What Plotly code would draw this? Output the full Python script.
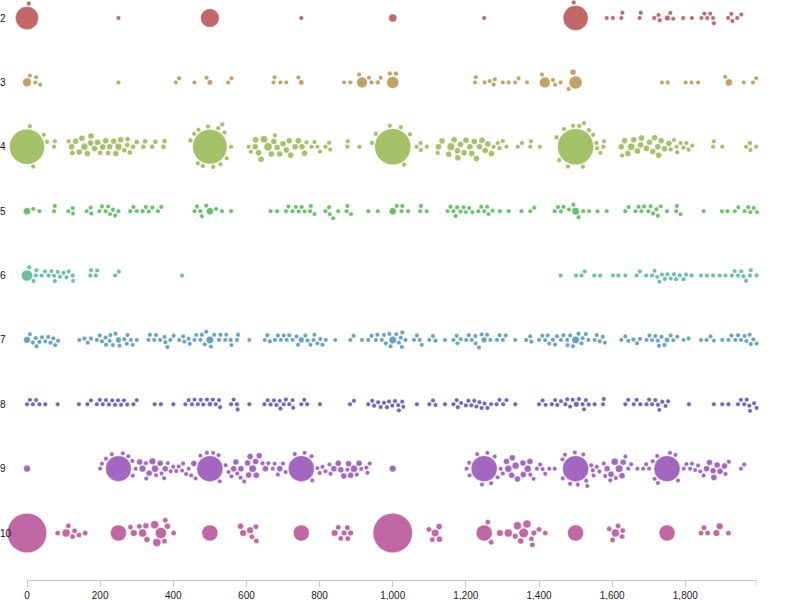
import math
import plotly.graph_objects as go

# ---------------- data: (value, size) pairs per row ----------------
categories = [2, 3, 4, 5, 6, 7, 8, 9, 10]
tick_values = [0, 200, 400, 600, 800, 1000, 1200, 1400, 1600, 1800]

row2 = [(0, 11.5), (5, 2.2), (250, 2.2), (500, 9.3), (750, 2.2), (1000, 4), (1250, 2.2), (1495, 2.2), (1500, 12.5),
        (1585, 2.2), (1602, 2.2), (1625, 2.2), (1628, 2.2), (1675, 2.2), (1678, 2.2), (1715, 2.2), (1727, 2.2),
        (1730, 2.2), (1751, 2.8), (1759, 2.2), (1767, 2.2), (1794, 2.2), (1818, 2.2), (1844, 2.2), (1852, 2.2),
        (1860, 2.2), (1868, 2.2), (1876, 2.2), (1878, 2.2), (1917, 2.2), (1926, 2.2), (1929, 2.2), (1942, 2.2),
        (1953, 2.2)]

row3 = [(0, 4.3), (8, 2.2), (23, 2.2), (25, 2.2), (36, 2.2), (250, 2.2), (407, 2.2), (416, 2.2), (458, 2.2),
        (491, 2.2), (500, 2.6), (550, 2.2), (559, 2.2), (674, 2.2), (677, 2.2), (693, 2.2), (709, 2.2), (742, 2.2),
        (750, 2.6), (867, 2.2), (884, 2.2), (908, 2.2), (916, 5.3), (935, 2.2), (942, 2.2), (959, 2.4), (967, 2.2),
        (992, 2.4), (1009, 2.4), (1000, 6), (1225, 2.2), (1227, 2.2), (1251, 2.2), (1265, 2.2), (1276, 2.2),
        (1279, 2.2), (1301, 2.2), (1317, 2.2), (1335, 2.2), (1344, 2.2), (1367, 2.2), (1408, 2.2), (1416, 5.3),
        (1438, 2.2), (1444, 2.2), (1459, 2.2), (1481, 2.2), (1493, 3), (1500, 6.5), (1736, 2.2), (1752, 2.2),
        (1801, 2.2), (1817, 2.2), (1835, 2.2), (1909, 2.2), (1919, 3.5), (1960, 2.2), (1985, 2.2), (1994, 2.2)]

row4 = [(0, 17.5), (8, 2.3), (17, 2.3), (46, 2.3), (55, 2.3), (74, 2.3), (76, 2.3),
        (114, 2.3), (122, 3), (124, 2.5), (133, 3), (143, 3), (150, 3), (157, 3.4), (165, 3), (174, 3), (175, 3),
        (185, 3), (193, 3), (200, 2.5), (207, 3), (215, 3), (222, 2.5), (226, 3), (237, 3), (243, 3), (250, 3.4),
        (256, 3), (266, 2.5), (274, 2.5), (275, 2.5), (281, 2.5), (290, 2.5), (300, 2.5), (318, 2.5), (323, 2.5),
        (342, 2.5), (351, 2.5), (373, 2.5), (376, 2.5),
        (500, 17.2), (447, 2.3), (457, 2.3), (467, 2.3), (469, 2.3), (481, 2.3), (495, 2.3), (509, 2.3), (523, 2.3),
        (534, 2.3), (546, 2.3), (558, 2.3), (540, 2.3), (529, 2.3),
        (606, 2.3), (612, 2.3), (625, 3), (624, 3), (633, 3), (640, 3), (648, 3.6), (659, 4), (668, 3), (675, 3),
        (678, 2.3), (684, 3), (691, 3), (700, 3), (709, 3), (717, 3), (721, 3), (733, 3), (742, 3), (752, 3),
        (759, 3), (764, 2.3), (778, 2.3), (786, 2.3), (794, 2.3), (801, 2.3), (816, 2.3), (826, 2.3), (829, 2.3),
        (876, 2.3), (877, 2.3), (909, 2.3), (943, 2.3), (954, 2.3),
        (1000, 18), (992, 2.3), (1022, 2.3), (1031, 2.3), (1047, 2.3), (1065, 2.3), (1076, 2.3), (1077, 2.3),
        (1093, 2.3),
        (1123, 2.3), (1125, 3), (1135, 3), (1153, 3), (1159, 3.8), (1168, 3), (1177, 3), (1178, 3), (1185, 3),
        (1195, 3), (1200, 3), (1211, 3), (1216, 3), (1223, 3), (1229, 3), (1237, 3), (1244, 3), (1253, 3),
        (1260, 3), (1270, 3), (1276, 2.3), (1287, 2.3), (1292, 2.3), (1301, 2.3), (1311, 2.3),
        (1342, 2.3), (1353, 2.3), (1376, 2.3), (1378, 2.3), (1402, 2.3),
        (1500, 18), (1520, 2.3), (1448, 2.3), (1455, 2.3), (1468, 2.3), (1479, 2.3), (1493, 2.3), (1510, 2.3),
        (1523, 2.3), (1536, 2.3), (1548, 2.3), (1557, 2.3), (1559, 2.3), (1568, 2.3), (1576, 2.3), (1578, 2.3),
        (1627, 2.3), (1625, 3), (1643, 3), (1634, 3), (1652, 3.6), (1659, 3), (1669, 3), (1678, 3), (1680, 3),
        (1694, 3), (1702, 3), (1711, 3), (1716, 3), (1725, 3), (1727, 3), (1734, 3), (1743, 3), (1755, 3),
        (1760, 2.3), (1769, 2.3), (1776, 2.3), (1778, 2.3), (1787, 2.3), (1795, 2.3), (1803, 2.3), (1809, 2.3),
        (1819, 2.3), (1876, 2.3), (1878, 2.3), (1901, 2.3), (1966, 2.3), (1977, 2.3), (1978, 2.3), (1994, 2.3)]

row5 = [(0, 3.5), (17, 2.2), (34, 2.2), (74, 2.2), (76, 2.2), (113, 2.2), (125, 2.2), (126, 2.2), (163, 2.2),
        (174, 2.2), (176, 2.2), (198, 2.2), (205, 2.2), (215, 2.2), (222, 2.2), (227, 2.2), (235, 2.2), (241, 2.2),
        (250, 2.2), (282, 2.2), (291, 2.2), (300, 2.2), (316, 2.2), (325, 2.2), (333, 2.2), (343, 2.2), (358, 2.2),
        (367, 2.2), (458, 2.2), (465, 2.2), (474, 2.2), (478, 2.2), (490, 2.2), (500, 3.5), (517, 2.2), (533, 2.2),
        (558, 2.2), (666, 2.2), (684, 2.2), (708, 2.2), (715, 2.2), (726, 2.2), (735, 2.2), (743, 2.2), (751, 2.2),
        (759, 2.2), (774, 2.2), (776, 2.2), (786, 2.2), (816, 2.2), (826, 2.2), (828, 2.2), (837, 2.2), (851, 2.2),
        (874, 2.2), (876, 2.2), (886, 2.2), (933, 2.2), (959, 2.2), (1000, 3.5), (1011, 2.2), (1024, 2.2),
        (1026, 2.2), (1042, 2.2), (1075, 2.2), (1077, 2.2), (1093, 2.2), (1150, 2.2), (1158, 2.2), (1166, 2.2),
        (1172, 2.2), (1176, 2.2), (1185, 2.2), (1194, 2.2), (1200, 2.2), (1209, 2.2), (1218, 2.2), (1234, 2.2),
        (1242, 2.2), (1250, 2.2), (1258, 2.2), (1262, 2.2), (1273, 2.2), (1293, 2.2), (1317, 2.2), (1352, 2.2),
        (1376, 2.2), (1387, 2.2), (1443, 2.2), (1452, 2.2), (1460, 2.2), (1467, 2.2), (1482, 2.2), (1494, 2.2),
        (1500, 3.7), (1508, 2.2), (1521, 2.2), (1537, 2.2), (1560, 2.2), (1585, 2.2), (1636, 2.2), (1645, 2.2),
        (1664, 2.2), (1672, 2.2), (1680, 2.2), (1687, 2.2), (1699, 2.2), (1705, 2.2), (1712, 2.2), (1721, 2.2),
        (1725, 2.2), (1733, 2.2), (1750, 2.2), (1775, 2.2), (1777, 2.2), (1787, 2.2), (1850, 2.2), (1900, 2.2),
        (1915, 2.2), (1935, 2.2), (1945, 2.2), (1962, 2.2), (1972, 2.2), (1978, 2.2), (1987, 2.2), (1996, 2.2)]

row6 = [(0, 5.5), (6, 2.2), (18, 2.2), (24, 2.2), (26, 2.2), (40, 2.2), (49, 2.2), (59, 2.2), (67, 2.2), (74, 2.2),
        (76, 2.2), (84, 2.2), (90, 2.2), (100, 2.2), (108, 2.2), (114, 2.2), (125, 2.2), (126, 2.2), (173, 2.2),
        (175, 2.2), (188, 2.2), (192, 2.2), (241, 2.2), (251, 2.2), (424, 2.2),
        (1459, 2.2), (1501, 2.2), (1516, 2.2), (1525, 2.2), (1551, 2.2), (1567, 2.2), (1602, 2.2), (1617, 2.2),
        (1636, 2.2), (1667, 2.2), (1676, 2.2), (1693, 2.2), (1709, 2.2), (1716, 2.2), (1723, 2.2), (1729, 2.2),
        (1736, 2.2), (1744, 2.2), (1751, 2.2), (1760, 2.2), (1769, 2.2), (1775, 2.2), (1785, 2.2), (1795, 2.2),
        (1802, 2.2), (1817, 2.2), (1843, 2.2), (1859, 2.2), (1876, 2.2), (1894, 2.2), (1910, 2.2), (1927, 2.2),
        (1935, 2.2), (1944, 2.2), (1953, 2.2), (1959, 2.2), (1966, 2.2), (1977, 2.2), (1979, 2.2), (1995, 2.2)]

row7 = [(0, 3.3), (8, 2.2), (16, 2.2), (24, 2.2), (26, 2.2), (34, 2.2), (41, 2.2), (50, 2.2), (58, 2.2), (64, 2.2),
        (72, 2.2), (77, 2.2), (85, 2.2),
        (143, 2.2), (157, 2.2), (166, 2.2), (175, 2.2), (191, 2.2), (199, 2.2), (205, 2.2), (215, 2.2), (216, 2.2),
        (226, 2.2), (228, 2.2), (235, 2.2), (242, 2.2), (250, 2.8), (253, 2.2), (266, 2.2), (273, 2.2), (275, 2.2),
        (284, 2.2), (289, 2.2), (300, 2.2),
        (332, 2.2), (336, 2.2), (348, 2.2), (353, 2.2), (364, 2.2), (376, 2.2), (378, 2.2), (384, 2.2), (392, 2.2),
        (401, 2.2), (416, 2.2), (427, 2.2), (430, 2.2), (442, 2.2), (445, 2.2), (458, 2.2), (463, 2.2), (474, 2.2),
        (478, 2.2), (486, 2.2), (490, 2.2), (500, 3.7), (503, 2.2), (512, 2.2), (525, 2.2), (529, 2.2), (542, 2.2),
        (545, 2.2), (557, 2.2), (559, 2.2), (574, 2.2), (577, 2.2), (608, 2.2),
        (650, 2.2), (657, 2.2), (664, 2.2), (678, 2.2), (686, 2.2), (694, 2.2), (702, 2.2), (710, 2.2), (717, 2.2),
        (726, 2.2), (737, 2.2), (741, 2.2), (750, 2.8), (761, 2.2), (767, 2.2), (775, 2.2), (783, 2.2), (786, 2.2),
        (794, 2.2), (802, 2.2), (808, 2.2), (817, 2.2), (843, 2.2),
        (884, 2.2), (893, 2.2), (916, 2.2), (933, 2.2), (942, 2.2), (954, 2.2), (958, 2.2), (970, 2.2), (976, 2.2),
        (981, 2.2), (991, 2.2), (994, 2.2), (1000, 3.7), (1010, 2.2), (1017, 2.2), (1022, 2.2), (1025, 2.2),
        (1026, 2.2), (1035, 2.2),
        (1058, 2.2), (1066, 2.2), (1074, 2.2), (1079, 2.2), (1100, 2.2), (1110, 2.2), (1117, 2.2), (1143, 2.2),
        (1166, 2.2), (1175, 2.2), (1177, 2.2), (1186, 2.2), (1201, 2.2), (1208, 2.2), (1216, 2.2), (1226, 2.2),
        (1227, 2.2), (1236, 2.2), (1243, 2.2), (1250, 2.8), (1258, 2.2), (1267, 2.2), (1285, 2.2), (1292, 2.2),
        (1301, 2.2), (1309, 2.2), (1335, 2.2),
        (1365, 2.2), (1376, 2.2), (1379, 2.2), (1400, 2.2), (1409, 2.2), (1417, 2.2), (1424, 2.2), (1428, 2.2),
        (1438, 2.2), (1444, 2.2), (1449, 2.2), (1460, 2.2), (1467, 2.2), (1477, 2.2), (1478, 2.2), (1485, 2.2),
        (1493, 2.2), (1500, 3.7), (1508, 2.2), (1516, 2.2), (1519, 2.2), (1528, 2.2), (1535, 2.2), (1552, 2.2),
        (1558, 2.2), (1566, 2.2), (1574, 2.2), (1580, 2.2),
        (1625, 2.2), (1636, 2.2), (1644, 2.2), (1658, 2.2), (1668, 2.2), (1676, 2.2), (1694, 2.2), (1702, 2.2),
        (1709, 2.2), (1718, 2.2), (1725, 2.2), (1728, 2.2), (1735, 2.2), (1743, 2.2), (1750, 2.6), (1760, 2.2),
        (1767, 2.2), (1778, 2.2), (1795, 2.2), (1809, 2.2),
        (1843, 2.2), (1858, 2.2), (1869, 2.2), (1878, 2.2), (1901, 2.2), (1918, 2.2), (1926, 2.2), (1937, 2.2),
        (1944, 2.2), (1952, 2.2), (1962, 2.2), (1967, 2.2), (1976, 2.2), (1979, 2.2), (1986, 2.2), (1995, 2.2)]

row8 = [(0, 2.2), (8, 2.2), (16, 2.2), (25, 2.2), (34, 2.2), (50, 2.2), (84, 2.2),
        (142, 2.2), (165, 2.2), (175, 2.2), (191, 2.2), (199, 2.2), (207, 2.2), (216, 2.2), (224, 2.2), (233, 2.2),
        (241, 2.2), (249, 2.2), (257, 2.2), (265, 2.2), (274, 2.2), (291, 2.2), (300, 2.2),
        (349, 2.2), (366, 2.2), (400, 2.2),
        (433, 2.2), (442, 2.2), (451, 2.2), (458, 2.2), (467, 2.2), (475, 2.2), (482, 2.2), (492, 2.2), (500, 2.4),
        (508, 2.2), (516, 2.2), (525, 2.2), (528, 2.2),
        (558, 2.2), (565, 2.2), (574, 2.2), (576, 2.2), (608, 2.2),
        (649, 2.2), (658, 2.2), (666, 2.2), (675, 2.2), (682, 2.2), (691, 2.2), (693, 2.2), (702, 2.2), (708, 2.2),
        (717, 2.2), (726, 2.2), (728, 2.2), (750, 2.2), (758, 2.2), (766, 2.2), (801, 2.2),
        (883, 2.2), (894, 2.2),
        (933, 2.2), (944, 2.2), (949, 2.2), (960, 2.2), (967, 2.2), (976, 2.2), (984, 2.2), (990, 2.2), (999, 2.2),
        (1006, 2.2), (1015, 2.2), (1017, 2.2), (1026, 2.2), (1029, 2.2), (1066, 2.2),
        (1100, 2.2), (1110, 2.2), (1117, 2.2), (1143, 2.2),
        (1166, 2.2), (1175, 2.2), (1178, 2.2), (1187, 2.2), (1200, 2.2), (1207, 2.2), (1215, 2.2), (1223, 2.2),
        (1229, 2.2), (1237, 2.2), (1243, 2.2), (1251, 2.2), (1259, 2.2), (1269, 2.2), (1284, 2.2), (1292, 2.2),
        (1302, 2.2), (1311, 2.2), (1335, 2.2),
        (1400, 2.2), (1410, 2.2), (1418, 2.2), (1435, 2.2), (1444, 2.2), (1450, 2.2), (1460, 2.2), (1472, 2.2),
        (1477, 2.2), (1485, 2.2), (1492, 2.2), (1502, 2.7), (1509, 2.2), (1519, 2.2), (1523, 2.2), (1528, 2.2),
        (1536, 2.2), (1552, 2.2), (1575, 2.2), (1577, 2.2),
        (1636, 2.2), (1644, 2.2), (1659, 2.2), (1667, 2.2), (1677, 2.2), (1694, 2.2), (1701, 2.2), (1709, 2.2),
        (1718, 2.2), (1725, 2.2), (1729, 2.2), (1737, 2.2), (1746, 2.2), (1753, 2.2),
        (1810, 2.2),
        (1878, 2.2), (1901, 2.2), (1918, 2.2), (1944, 2.2), (1952, 2.2), (1961, 2.2), (1968, 2.2), (1975, 2.2),
        (1977, 2.2), (1988, 2.2), (1995, 2.2)]

row9 = [(0, 3.3),
        (200, 2.2), (205, 2.2), (216, 2.2), (232, 2.2), (250, 12.8), (262, 2.2), (277, 2.2), (288, 2.2), (289, 2.2),
        (297, 2.2), (308, 3), (316, 3.3), (325, 2.2), (326, 2.2), (334, 3), (343, 3.3), (350, 3.5), (353, 2.2),
        (364, 3), (368, 2.2), (375, 2.2), (378, 3), (385, 2.2), (393, 2.2), (400, 2.2), (408, 2.2), (415, 2.2),
        (424, 2.2), (427, 2.2), (435, 2.2), (442, 2.2), (449, 2.2), (456, 3),
        (461, 2.2), (474, 2.2), (492, 2.2), (500, 13), (509, 2.2), (524, 2.2), (527, 2.2),
        (543, 2.2), (551, 2.2), (559, 2.2), (565, 3), (571, 3), (575, 2.2), (584, 2.2), (585, 3), (594, 2.2),
        (603, 3), (606, 3), (610, 3), (617, 3.7), (625, 3), (627, 3), (635, 3), (644, 2.2), (652, 3), (660, 2.2),
        (672, 2.2), (677, 2.2), (686, 2.2), (691, 3), (700, 2.2), (707, 2.2),
        (732, 2.2), (750, 13), (759, 2.2), (778, 2.2), (780, 2.2), (794, 2.2), (800, 2.2),
        (808, 2.2), (816, 2.2), (827, 2.2), (830, 2.2), (839, 3), (851, 3), (858, 3), (866, 3), (876, 2.2),
        (879, 3), (885, 3), (894, 3.5), (902, 2.2), (908, 3), (914, 2.2), (928, 2.2), (931, 2.2), (937, 2.2),
        (1000, 3.3),
        (1202, 2.2), (1209, 2.2), (1210, 2.2), (1231, 2.2), (1244, 2.2), (1250, 13), (1259, 2.2), (1269, 2.2),
        (1279, 2.2), (1287, 2.2), (1295, 2.2),
        (1301, 2.2), (1311, 3), (1316, 3.5), (1325, 3), (1327, 3), (1336, 3.5), (1341, 3), (1356, 3), (1357, 3),
        (1369, 3.5), (1375, 3), (1376, 2.2), (1385, 2.2), (1394, 2.2), (1403, 2.2), (1410, 2.2), (1417, 2.2),
        (1428, 2.2), (1443, 2.2),
        (1464, 2.2), (1465, 2.2), (1471, 2.2), (1485, 2.2), (1498, 2.2), (1500, 13), (1506, 2.2), (1521, 2.2),
        (1529, 2.2), (1532, 2.2), (1543, 2.2), (1547, 2.2),
        (1549, 2.2), (1558, 2.2), (1565, 2.2), (1577, 2.2), (1581, 2.2), (1586, 3), (1595, 2.2), (1597, 3),
        (1607, 3.5), (1610, 2.2), (1619, 3.7), (1627, 3), (1630, 3), (1636, 2.2), (1644, 2.2), (1652, 2.2),
        (1669, 2.2), (1685, 2.2), (1693, 2.2), (1701, 2.2),
        (1711, 2.2), (1716, 2.2), (1723, 2.2), (1725, 2.2), (1750, 13), (1758, 2.2), (1773, 2.2), (1780, 2.2),
        (1796, 2.2), (1803, 2.2), (1813, 2.2), (1818, 2.2), (1827, 2.2), (1835, 2.2), (1841, 2.2), (1850, 2.2),
        (1858, 3), (1866, 3), (1876, 3), (1878, 3), (1887, 3), (1895, 3), (1907, 3), (1910, 2.2), (1919, 2.2),
        (1952, 2.2), (1961, 2.2)]

row10 = [(0, 19.7), (84, 2.6), (107, 4), (113, 2.6), (125, 2.6), (130, 2.6), (142, 2.6), (159, 2.6),
         (250, 8), (283, 2.6), (292, 3.3), (307, 2.6), (316, 4), (325, 3), (328, 3), (349, 4), (355, 4), (366, 5.5),
         (376, 2.6), (378, 2.6), (384, 3), (401, 2.6),
         (500, 8), (584, 3), (591, 3.3), (610, 3.3), (615, 2.6), (626, 2.6), (627, 2.6),
         (750, 8), (841, 3.3), (851, 2.6), (858, 2.6), (867, 2.8), (876, 2.6), (877, 2.6), (885, 2.8),
         (1000, 19.7), (1099, 2.6), (1108, 2.6), (1116, 3.7), (1127, 3), (1128, 3),
         (1250, 8), (1260, 2.6), (1269, 2.6), (1293, 3.3), (1316, 4), (1335, 2.8), (1341, 4), (1350, 3),
         (1358, 4.7), (1367, 4), (1379, 2.6), (1382, 2.6), (1386, 2.8), (1400, 2.6), (1417, 2.6),
         (1500, 8), (1592, 2.6), (1601, 2.6), (1609, 4), (1616, 2.6), (1627, 2.6), (1629, 2.6),
         (1750, 8), (1843, 2.6), (1851, 2.6), (1861, 2.6), (1885, 3.3), (1894, 3.3), (1918, 2.6)]

rows = [row2, row3, row4, row5, row6, row7, row8, row9, row10]
hues = [0, 40, 80, 120, 160, 200, 240, 280, 320]

# ---------------- layout geometry ----------------
W, H = 800, 600
ML, MR, MT, MB = 27, 43, 0, 20
X_MAX = 1996
plot_w = W - ML - MR
plot_h = H - MT - MB
px_per_unit = plot_w / X_MAX
row_top_px = 18.0
row_step_px = 64.375
y_lo = categories[0] - row_top_px / row_step_px
y_hi = categories[0] + (plot_h - row_top_px) / row_step_px


def beeswarm(xs, rs, pad=0.9):
    """Greedy beeswarm: returns vertical pixel offsets."""
    n = len(xs)
    order = sorted(range(n), key=lambda i: (-rs[i], xs[i]))
    placed = []
    ys = [0.0] * n
    for i in order:
        xi, ri = xs[i], rs[i]
        near = [p for p in placed if abs(p[0] - xi) < ri + p[2] + pad]
        cands = [0.0]
        for (xj, yj, rj) in near:
            d = ri + rj + pad
            h = math.sqrt(max(d * d - (xi - xj) ** 2, 0.0))
            cands += [yj + h, yj - h]
        cands.sort(key=lambda y: (abs(y), y))
        chosen = cands[-1]
        for y in cands:
            ok = True
            for (xj, yj, rj) in near:
                d = ri + rj + pad
                if (xi - xj) ** 2 + (y - yj) ** 2 < d * d - 1e-6:
                    ok = False
                    break
            if ok:
                chosen = y
                break
        ys[i] = chosen
        placed.append((xi, chosen, ri))
    return ys


fig = go.Figure()

for cat, data, hue in zip(categories, rows, hues):
    xs = [d[0] for d in data]
    rs = [d[1] for d in data]
    offs = beeswarm([x * px_per_unit for x in xs], rs)
    ys = [cat + o / row_step_px for o in offs]
    fig.add_trace(go.Scatter(
        x=xs, y=ys, mode="markers",
        marker=dict(size=[2 * r for r in rs], sizemode="diameter",
                    color=f"hsl({hue},42%,58%)", line=dict(width=0.6, color="rgba(255,255,255,0.6)"),
                    opacity=1),
        cliponaxis=False, showlegend=False, hoverinfo="x"))

# row labels at the left edge
for cat in categories:
    fig.add_annotation(x=-(ML + 2.5) / plot_w, xref="paper", y=cat, yref="y", text=str(cat),
                       showarrow=False, xanchor="left", yanchor="middle",
                       font=dict(family="Liberation Sans, Arial, sans-serif", size=10, color="#111"))

# outer end tick of the axis
fig.add_shape(type="line", xref="x", yref="paper", x0=X_MAX, x1=X_MAX, y0=0, y1=-6 / plot_h,
              line=dict(color="#c8c8c8", width=1))

fig.update_layout(
    width=W, height=H, margin=dict(l=ML, r=MR, t=MT, b=MB),
    paper_bgcolor="white", plot_bgcolor="white",
    xaxis=dict(range=[0, X_MAX], tickvals=tick_values, tickformat=",", showgrid=False, zeroline=False,
               showline=True, linecolor="#c8c8c8", linewidth=1, ticks="outside", ticklen=6,
               tickcolor="#c8c8c8", tickfont=dict(family="Liberation Sans, Arial, sans-serif", size=10,
                                                   color="#222")),
    yaxis=dict(range=[y_hi, y_lo], showgrid=False, zeroline=False, showticklabels=False, showline=False),
)

fig.write_html("out.html")
